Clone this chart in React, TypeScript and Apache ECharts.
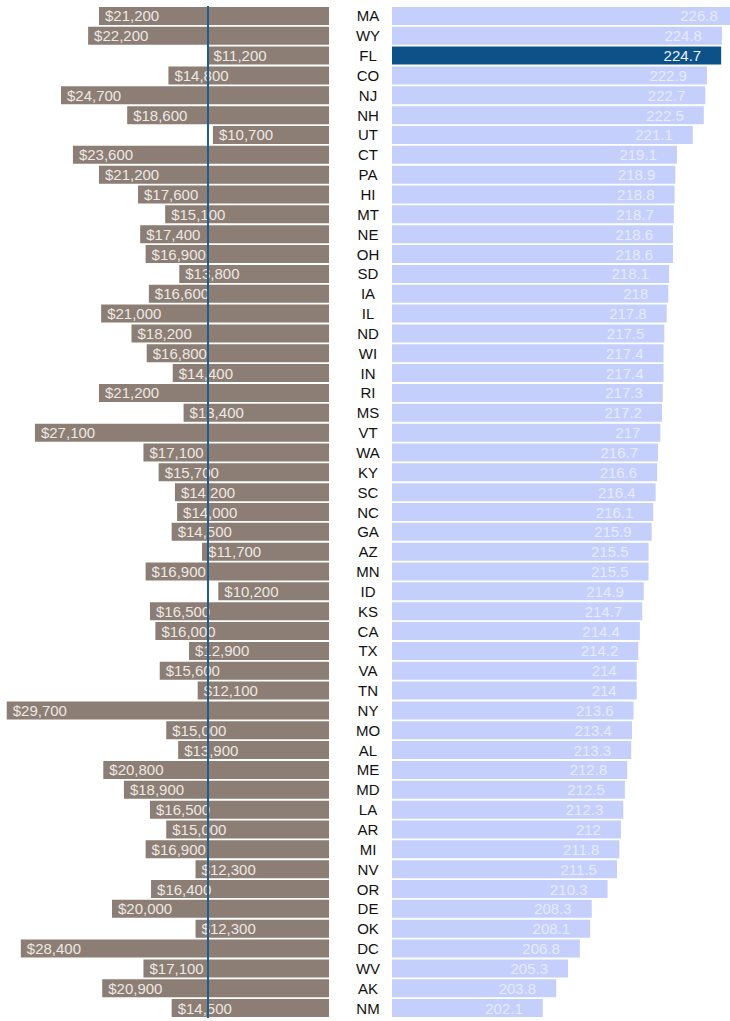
import React, { useEffect, useRef } from "react";
import * as echarts from "echarts";

const states = ["MA","WY","FL","CO","NJ","NH","UT","CT","PA","HI","MT","NE","OH","SD","IA","IL","ND","WI","IN","RI","MS","VT","WA","KY","SC","NC","GA","AZ","MN","ID","KS","CA","TX","VA","TN","NY","MO","AL","ME","MD","LA","AR","MI","NV","OR","DE","OK","DC","WV","AK","NM"];
const spending = [21200,22200,11200,14800,24700,18600,10700,23600,21200,17600,15100,17400,16900,13800,16600,21000,18200,16800,14400,21200,13400,27100,17100,15700,14200,14000,14500,11700,16900,10200,16500,16000,12900,15600,12100,29700,15000,13900,20800,18900,16500,15000,16900,12300,16400,20000,12300,28400,17100,20900,14500];
const scores = [226.8,224.8,224.7,222.9,222.7,222.5,221.1,219.1,218.9,218.8,218.7,218.6,218.6,218.1,218,217.8,217.5,217.4,217.4,217.3,217.2,217,216.7,216.6,216.4,216.1,215.9,215.5,215.5,214.9,214.7,214.4,214.2,214,214,213.6,213.4,213.3,212.8,212.5,212.3,212,211.8,211.5,210.3,208.3,208.1,206.8,205.3,203.8,202.1];
const highlightState = "FL";
const referenceSpending = spending[states.indexOf(highlightState)];

const FONT = "'Liberation Sans', Arial, Helvetica, sans-serif";

export default function App() {
  const ref = useRef<HTMLDivElement>(null);
  useEffect(() => {
    if (!ref.current) return;
    const chart = echarts.init(ref.current, null, { renderer: "svg" });
    const top = 6;
    const height = 1012;
    chart.setOption({
      animation: false,
      textStyle: { fontFamily: FONT },
      grid: [
        { left: 0, top, width: 329, height, outerBoundsMode: "none", containLabel: false },
        { left: 392, top, width: 371, height, outerBoundsMode: "none", containLabel: false },
      ],
      xAxis: [
        { gridIndex: 0, type: "value", min: 0, max: 30320, inverse: true, show: false },
        { gridIndex: 1, type: "value", min: 183, max: 230, show: false },
      ],
      yAxis: [
        { gridIndex: 0, type: "category", data: states, inverse: true, show: false },
        {
          gridIndex: 1,
          type: "category",
          data: states,
          inverse: true,
          axisLine: { show: false },
          axisTick: { show: false },
          splitLine: { show: false },
          axisLabel: {
            margin: 24,
            align: "center",
            color: "#111",
            fontSize: 15,
            fontFamily: FONT,
          },
        },
      ],
      series: [
        {
          type: "bar",
          xAxisIndex: 0,
          yAxisIndex: 0,
          barWidth: 18,
          data: spending,
          itemStyle: { color: "#8c7e74" },
          label: {
            show: true,
            position: "insideLeft",
            distance: 6,
            color: "#ece8e4",
            fontSize: 15,
            fontFamily: FONT,
            formatter: (p: any) => "$" + Number(p.value).toLocaleString("en-US"),
          },
          markLine: {
            silent: true,
            symbol: ["none", "none"],
            label: { show: false },
            lineStyle: { color: "#1f5d8c", width: 2, type: "solid" },
            data: [{ xAxis: referenceSpending }],
            z: 10,
          },
        },
        {
          type: "bar",
          xAxisIndex: 1,
          yAxisIndex: 1,
          barWidth: 18,
          data: scores.map((v, i) =>
            states[i] === highlightState
              ? { value: v, itemStyle: { color: "#0d5189" }, label: { color: "#eef2fa" } }
              : v
          ),
          itemStyle: { color: "#c5cffb" },
          label: {
            show: true,
            position: "insideRight",
            distance: 20,
            color: "#e6ebfe",
            fontSize: 15,
            fontFamily: FONT,
          },
        },
      ],
    });
    return () => chart.dispose();
  }, []);
  return (
    <div
      ref={ref}
      style={{ position: "absolute", left: 0, top: 0, width: 730, height: 1021, overflow: "hidden" }}
    />
  );
}
